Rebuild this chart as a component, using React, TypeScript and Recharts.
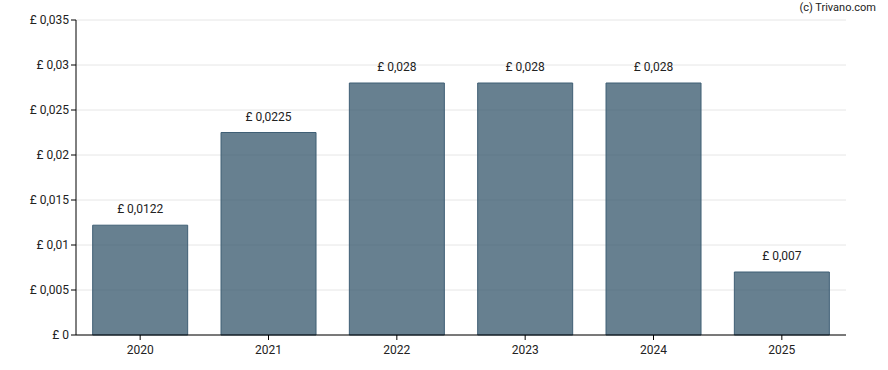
import React from 'react'
import { BarChart, Bar, XAxis, YAxis, CartesianGrid, LabelList } from 'recharts'

const years = ['2020', '2021', '2022', '2023', '2024', '2025']
const dividends = [0.0122, 0.0225, 0.028, 0.028, 0.028, 0.007]
const yTicks = [0, 0.005, 0.01, 0.015, 0.02, 0.025, 0.03, 0.035]

const chartData = years.map((y, i) => ({ year: y, value: dividends[i] }))

// £ 0,0225 style, trailing zeros dropped
const fmt = (v: number) => '£ ' + String(parseFloat(v.toFixed(4))).replace('.', ',')

const font = 'Roboto, Arial, sans-serif'

export default function App() {
  return (
    <div style={{ position: 'absolute', left: 0, top: 0, width: 888, height: 370, fontFamily: font }}>
      <BarChart
        width={888}
        height={370}
        data={chartData}
        margin={{ top: 20, right: 42, bottom: 5, left: 0 }}
        barCategoryGap="13%"
      >
        <CartesianGrid vertical={false} stroke="#e6e6e6" />
        <XAxis
          dataKey="year"
          stroke="#000"
          tickSize={5}
          tickMargin={5}
          height={30}
          tick={{ fill: '#222', fontSize: 12, fontFamily: font }}
        />
        <YAxis
          width={76}
          domain={[0, 0.035]}
          ticks={yTicks}
          interval={0}
          tickFormatter={fmt}
          stroke="#000"
          tickSize={5}
          tick={{ fill: '#222', fontSize: 12, fontFamily: font }}
        />
        <Bar
          dataKey="value"
          fill="#34566b"
          fillOpacity={0.75}
          stroke="#3f5f75"
          strokeWidth={1}
          isAnimationActive={false}
        >
          <LabelList
            dataKey="value"
            position="top"
            offset={12}
            formatter={(v: any) => fmt(Number(v))}
            style={{ fill: '#222', fontSize: 12, fontFamily: font }}
          />
        </Bar>
      </BarChart>
      <div
        style={{
          position: 'absolute',
          right: 12,
          top: 1,
          fontSize: 11,
          color: '#222',
          fontFamily: font,
        }}
      >
        (c) Trivano.com
      </div>
    </div>
  )
}
